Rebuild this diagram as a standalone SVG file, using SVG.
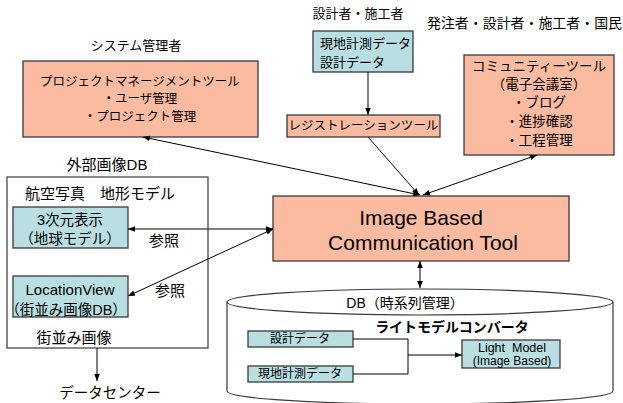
<svg xmlns="http://www.w3.org/2000/svg" width="623" height="403" viewBox="0 0 623 403">
<defs>
<marker id="ah" viewBox="0 0 10 10" refX="10" refY="5" markerWidth="7" markerHeight="7" markerUnits="userSpaceOnUse" orient="auto-start-reverse">
<path d="M0,1 L10,5 L0,9 z" fill="#000"/>
</marker>
<style>
text{font-family:"Liberation Sans","Noto Sans CJK JP",sans-serif;fill:#000;dominant-baseline:central;text-anchor:middle}
.s{fill:#FBBBA1;stroke:#3a3a3a;stroke-width:1.3}
.c{fill:#B9DFE2;stroke:#3a3a3a;stroke-width:1.3}
.w{fill:#fff;stroke:#3a3a3a;stroke-width:1.2}
.l{fill:none;stroke:#000;stroke-width:1}
.a{marker-end:url(#ah)}
.b{marker-start:url(#ah);marker-end:url(#ah)}
</style>
</defs>
<rect width="623" height="403" fill="#fff"/>

<g id="labels">
<text x="136" y="45" font-size="13">システム管理者</text>
<text x="358" y="13" font-size="13">設計者・施工者</text>
<text x="427" y="23" font-size="13.5" style="text-anchor:start" textLength="195" lengthAdjust="spacingAndGlyphs">発注者・設計者・施工者・国民</text>
<text x="107" y="164" font-size="15">外部画像DB</text>
<text x="110" y="393" font-size="14.5">データセンター</text>
</g>

<g id="extdb">
<rect class="w" x="7" y="177" width="201" height="171"/>
<text x="25" y="193" font-size="15" style="text-anchor:start">航空写真　地形モデル</text>
<text x="74" y="337" font-size="15">街並み画像</text>
<text x="164" y="240" font-size="15">参照</text>
<text x="170" y="290" font-size="15">参照</text>
</g>

<g id="dbcyl">
<path class="w" d="M227,302 L227,391 A193,13 0 0 0 613,391 L613,302"/>
<ellipse class="w" cx="420" cy="302" rx="193" ry="13"/>
<text x="405" y="303" font-size="14">DB（時系列管理）</text>
<text x="452" y="327" font-size="14" font-weight="bold">ライトモデルコンバータ</text>
</g>

<g id="proj">
<rect class="s" x="23" y="61" width="235" height="76"/>
<text x="140" y="82" font-size="12.5">プロジェクトマネージメントツール</text>
<text x="140" y="99" font-size="12.5">・ユーザ管理</text>
<text x="140" y="117" font-size="12.5">・プロジェクト管理</text>
</g>

<g id="sitedata">
<rect class="c" x="313" y="31" width="100" height="41"/>
<text x="320" y="43" font-size="13" style="text-anchor:start">現地計測データ</text>
<text x="320" y="62" font-size="13" style="text-anchor:start">設計データ</text>
</g>

<g id="reg">
<rect class="s" x="287" y="115" width="153" height="22"/>
<text x="363.5" y="126" font-size="12.5">レジストレーションツール</text>
</g>

<g id="comm">
<rect class="s" x="464" y="55" width="150" height="100"/>
<text x="539" y="66" font-size="13.5">コミュニティーツール</text>
<text x="539" y="84" font-size="13.5">（電子会議室）</text>
<text x="539" y="102" font-size="13.5">・ブログ</text>
<text x="539" y="121" font-size="13.5">・進捗確認</text>
<text x="539" y="140" font-size="13.5">・工程管理</text>
</g>

<g id="ibct">
<rect class="s" x="273" y="196" width="296" height="65"/>
<text x="421" y="217" font-size="21">Image Based</text>
<text x="423" y="242" font-size="21">Communication Tool</text>
</g>

<g id="globe">
<rect class="c" x="13" y="207" width="115" height="41"/>
<text x="70" y="220" font-size="14.5">3次元表示</text>
<text x="70" y="239" font-size="14.5">（地球モデル）</text>
</g>

<g id="locview">
<rect class="c" x="13" y="276" width="115" height="41"/>
<text x="70" y="289" font-size="15">LocationView</text>
<text x="66" y="310" font-size="14.5">（街並み画像DB）</text>
</g>

<g id="design">
<rect class="c" x="248" y="331" width="105" height="16"/>
<text x="300" y="339" font-size="12">設計データ</text>
</g>

<g id="survey">
<rect class="c" x="248" y="366" width="105" height="16"/>
<text x="300" y="374" font-size="12">現地計測データ</text>
</g>

<g id="light">
<rect class="c" x="462" y="340" width="98" height="28"/>
<text x="512" y="348" font-size="12.5" style="white-space:pre">Light  Model</text>
<text x="512" y="361" font-size="12">(Image Based)</text>
</g>

<g id="connectors">
<line class="l a" x1="368" y1="72" x2="368" y2="115"/>
<line class="l b" x1="143" y1="137" x2="420" y2="195"/>
<line class="l a" x1="368" y1="137" x2="419" y2="195"/>
<line class="l b" x1="537" y1="155" x2="423" y2="195"/>
<line class="l b" x1="128" y1="229" x2="273" y2="229"/>
<line class="l b" x1="128" y1="296" x2="273" y2="229"/>
<line class="l b" x1="420" y1="261" x2="420" y2="288"/>
<line class="l a" x1="97" y1="348" x2="97" y2="381"/>
<polyline class="l" points="353,339 408,339 408,374 353,374"/>
<line class="l a" x1="408" y1="355" x2="462" y2="355"/>
</g>
</svg>
